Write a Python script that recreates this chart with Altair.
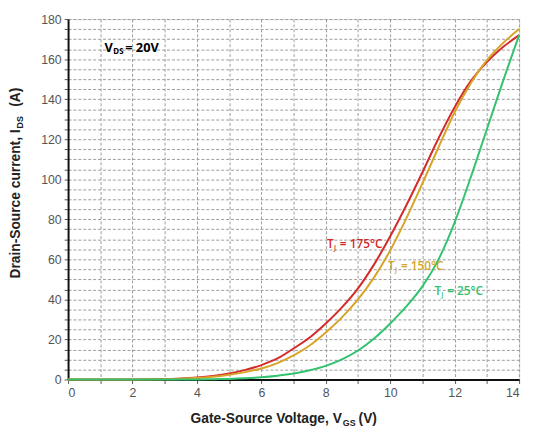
import altair as alt
import pandas as pd

# ---- data ----
vgs = [0, 1, 2, 3, 3.5, 4, 4.5, 5, 5.5, 6, 6.5, 7, 7.5, 8, 8.5, 9, 9.5, 10,
       10.5, 11, 11.5, 12, 12.5, 13, 13.5, 14]
ids_175 = [0, 0, 0.05, 0.2, 0.5, 1, 1.8, 3, 4.8, 7.2, 10.5, 15.5, 21, 28, 36,
           45.5, 57.5, 71.5, 87, 103.5, 120.5, 136, 149, 158.5, 166, 172]
ids_150 = [0, 0, 0.03, 0.1, 0.3, 0.8, 1.4, 2.4, 3.7, 5.5, 8.2, 12, 17, 23.5, 31,
           40, 51, 64.5, 80.5, 98, 116, 133.5, 148, 159.5, 168, 175]
ids_25 = [0, 0, 0, 0, 0, 0.05, 0.15, 0.3, 0.6, 1.1, 1.9, 3, 4.6, 6.8, 10, 14.5,
          20.5, 28, 36.5, 46.5, 60, 78.5, 101, 125, 149, 172]
series = ["175", "150", "25"]
colors = ["#d42a2a", "#d6a528", "#33c26e"]
x_ticks = list(range(0, 15))
y_ticks = list(range(0, 181, 5))

rows = []
for name, vals in zip(series, [ids_175, ids_150, ids_25]):
    for v, i in zip(vgs, vals):
        rows.append({"vgs": v, "ids": i, "tj": name})
df = pd.DataFrame(rows)

W, H = 458, 366
FONT = "Liberation Sans"
ANN = "Open Sans"

axis_common = dict(
    title=None, grid=True, gridColor="#9a9a9a", gridDash=[3, 2], gridWidth=1,
    domainColor="#111", domainWidth=2, tickColor="#555", tickSize=4,
    labelPadding=3, labelFont=FONT, labelFontSize=12.5, labelColor="#555",
)

base = alt.Chart(df).mark_line(strokeWidth=2, interpolate="monotone").encode(
    x=alt.X("vgs:Q", scale=alt.Scale(domain=[0, 14], nice=False),
            axis=alt.Axis(values=x_ticks,
                          labelExpr="datum.value % 2 == 0 ? datum.label : ''",
                          **axis_common)),
    y=alt.Y("ids:Q", scale=alt.Scale(domain=[0, 180], nice=False),
            axis=alt.Axis(values=y_ticks,
                          labelExpr="datum.value % 20 == 0 ? datum.label : ''",
                          **axis_common)),
    color=alt.Color("tj:N", scale=alt.Scale(domain=series, range=colors), legend=None),
    detail="tj:N",
)

one = pd.DataFrame({"k": [0]})


def txt(x, y, s, size=12, color="#000", weight="normal", font=ANN, align="left",
        angle=0, baseline="middle"):
    return alt.Chart(one).mark_text(
        fontSize=size, color=color, fontWeight=weight, font=font, align=align,
        angle=angle, baseline=baseline
    ).encode(x=alt.value(x), y=alt.value(y), text=alt.value(s))


layers = [base]
# curve labels
for (x, y, lab, col) in [(263, 228, "= 175°C", colors[0]),
                         (325, 251, "= 150°C", colors[1]),
                         (372, 276, "= 25°C", colors[2])]:
    layers.append(txt(x, y, "T", 12, col, 600))
    layers.append(txt(x + 7, y + 4, "J", 7, col, 600))
    layers.append(txt(x + 13, y, lab, 12, col, 600))

# V_DS annotation
layers.append(txt(37, 29, "V", 13, "#000", "bold"))
layers.append(txt(46, 33, "DS", 8, "#000", "bold"))
layers.append(txt(58, 29, "= 20V", 13, "#000", "bold"))

# x axis title
layers.append(txt(278, 406, "Gate-Source Voltage, V", 14, "#222", "bold", FONT, "right"))
layers.append(txt(279, 410, "GS", 9, "#222", "bold", FONT, "left"))
layers.append(txt(295, 406, "(V)", 14, "#222", "bold", FONT, "left"))

# y axis title (rotated)
layers.append(txt(-53, 112, "Drain-Source current, I", 14, "#222", "bold", FONT, "right", 270))
layers.append(txt(-49, 111, "DS", 9, "#222", "bold", FONT, "left", 270))
layers.append(txt(-53, 89, "(A)", 14, "#222", "bold", FONT, "left", 270))

chart = alt.layer(*layers).properties(
    width=W, height=H,
    autosize=alt.AutoSizeParams(type="none"),
    padding={"left": 61, "top": 8, "right": 6, "bottom": 46},
).configure_view(stroke=None).configure(background="white")

chart.save("out.html", embed_options={"renderer": "svg", "actions": False})
